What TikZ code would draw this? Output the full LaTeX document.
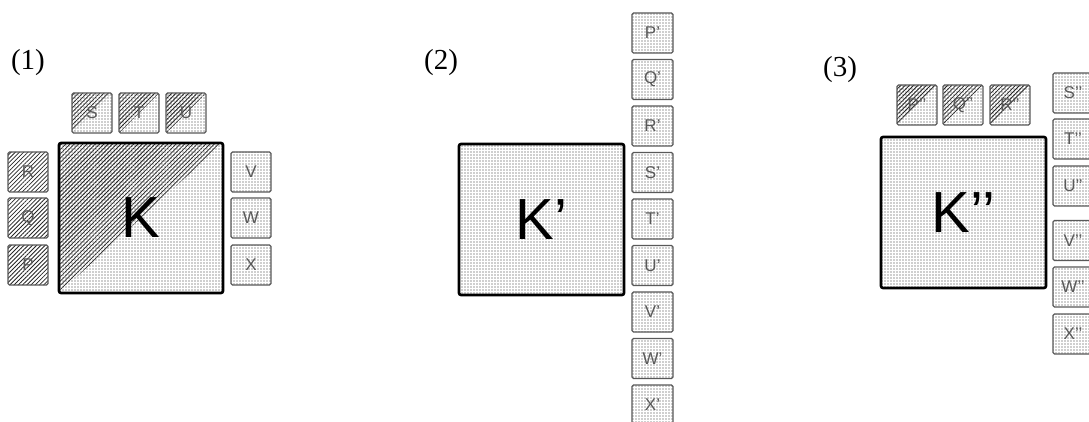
\documentclass[tikz,border=0pt]{standalone}
\usepackage{fontspec}
\setmainfont{Liberation Serif}
\newfontfamily\boxfont{Liberation Sans}
\usetikzlibrary{patterns.meta}

\tikzset{
  hatch/.style={pattern={Lines[angle=45,distance=3pt,line width=0.8pt]},pattern color=black!85},
  dotfill/.style={pattern={Dots[distance=3pt,radius=0.6pt]},pattern color=black!80},
  halfhatch/.style={dotfill,
    path picture={\fill[hatch] (path picture bounding box.south west) --
      (path picture bounding box.north west) --
      (path picture bounding box.north east) -- cycle;}},
  tile/.style={draw=black!65,line width=1.3pt,rounded corners=1.5pt,
    minimum width=40pt,minimum height=40pt,inner sep=0pt,
    font=\boxfont\fontsize{17}{17}\selectfont,text=black!65},
  big/.style={draw=black,line width=2.6pt,rounded corners=2pt,inner sep=0pt,
    minimum width=164pt,minimum height=150pt,
    font=\boxfont\fontsize{58}{58}\selectfont},
  panel/.style={font=\fontsize{29}{29}\selectfont,inner sep=0pt},
}

\begin{document}
\begin{tikzpicture}[x=1pt,y=-1pt]
\useasboundingbox[fill=white] (0,0) rectangle (1089,422);

% ---------- (1) ----------
\node[panel] (L1) at (28,63) {(1)};
\node[tile,halfhatch] (S) at (92,113) {S};
\node[tile,halfhatch] (T) at (139,113) {T};
\node[tile,halfhatch] (U) at (186,113) {U};
\node[big,halfhatch] (K) at (141,218) {K};
\node[tile,hatch] (R) at (28,172) {R};
\node[tile,hatch] (Q) at (28,218) {Q};
\node[tile,hatch] (P) at (28,265) {P};
\node[tile,dotfill] (V) at (251,172) {V};
\node[tile,dotfill] (W) at (251,218) {W};
\node[tile,dotfill] (X) at (251,265) {X};

% ---------- (2) ----------
\node[panel] (L2) at (441,63) {(2)};
\node[big,dotfill,minimum width=165pt,minimum height=151pt] (K1) at (541.5,219.5) {K’};
\foreach \name/\yy in {P/33,Q/79.5,R/126,S/172.5,T/219,U/265.5,V/312,W/358.5,X/405}
  \node[tile,dotfill,minimum width=41pt] (\name1) at (652.5,\yy) {\name’};

% ---------- (3) ----------
\node[panel] (L3) at (840,70) {(3)};
\node[big,dotfill,minimum width=165pt,minimum height=151pt] (K2) at (963.5,212.5) {K’’};
\node[tile,halfhatch] (P2) at (917,105) {P’’};
\node[tile,halfhatch] (Q2) at (963,105) {Q’’};
\node[tile,halfhatch] (R2) at (1010,105) {R’’};
\foreach \name/\yy in {S/93,T/139,U/186,V/240.5,W/287,X/334}
  \node[tile,dotfill] (\name2) at (1073,\yy) {\name’’};
\end{tikzpicture}
\end{document}
